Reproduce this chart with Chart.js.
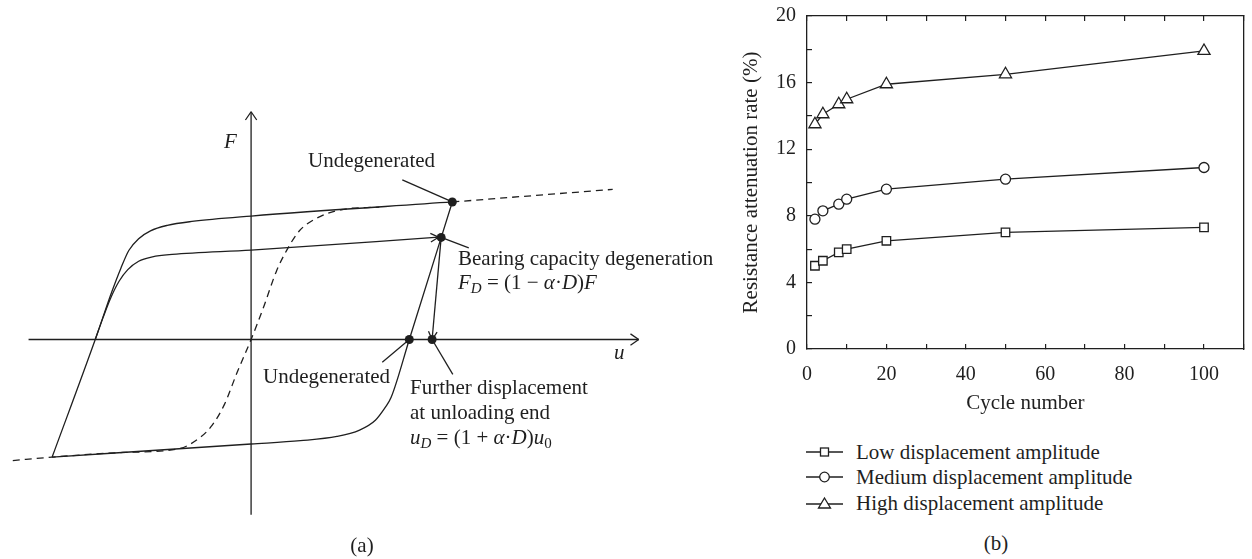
<!DOCTYPE html>
<html>
<head>
<meta charset="utf-8">
<script src="https://cdn.jsdelivr.net/npm/chart.js@4.4.0/dist/chart.umd.min.js"></script>
<style>
  body { margin: 0; background: #fff; }
  #wrap { position: relative; width: 1252px; height: 559px; overflow: hidden;
          font-family: "Liberation Serif", "DejaVu Serif", serif; color: #1f1f1f; }
  canvas { position: absolute; }
  #hyst { left: 0; top: 0; }
  #rate { left: 700px; top: 0; }
  .lbl { position: absolute; font-size: 21px; line-height: 1; white-space: nowrap; transform: translateY(-50%); }
  .cap { transform: translate(-50%, -50%); }
  sub { font-size: 15px; line-height: 0; vertical-align: -4px; }
  .row { position: absolute; left: 806px; height: 22px; transform: translateY(-50%);
         display: flex; align-items: center; font-size: 21px; white-space: nowrap; }
  .row svg { width: 37px; height: 16px; margin-right: 13px; }
</style>
</head>
<body>
<div id="wrap">
  <canvas id="hyst" width="660" height="559"></canvas>
  <canvas id="rate" width="552" height="430"></canvas>

  <div class="lbl" style="left:224px;top:141px"><i>F</i></div>
  <div class="lbl" style="left:614px;top:352px"><i>u</i></div>
  <div class="lbl" style="left:308px;top:160px">Undegenerated</div>
  <div class="lbl" style="left:458px;top:258px">Bearing capacity degeneration</div>
  <div class="lbl" style="left:458px;top:282px"><i>F</i><sub><i>D</i></sub> = (1 − <i>α</i>·<i>D</i>)<i>F</i></div>
  <div class="lbl" style="left:263px;top:376px">Undegenerated</div>
  <div class="lbl" style="left:410px;top:387px">Further displacement</div>
  <div class="lbl" style="left:410px;top:412px">at unloading end</div>
  <div class="lbl" style="left:410px;top:437px"><i>u</i><sub><i>D</i></sub> = (1 + <i>α</i>·<i>D</i>)<i>u</i><sub>0</sub></div>
  <div class="lbl cap" style="left:362px;top:545px">(a)</div>

  <div class="row" style="top:452px">
    <svg viewBox="0 0 37 16"><line x1="0" y1="8" x2="37" y2="8" stroke="#1f1f1f" stroke-width="1.3"/><rect x="14.5" y="4" width="8" height="8" fill="#fff" stroke="#1f1f1f" stroke-width="1.3"/></svg>
    <span id="leg0"></span>
  </div>
  <div class="row" style="top:477px">
    <svg viewBox="0 0 37 16"><line x1="0" y1="8" x2="37" y2="8" stroke="#1f1f1f" stroke-width="1.3"/><circle cx="18.5" cy="8" r="4.8" fill="#fff" stroke="#1f1f1f" stroke-width="1.3"/></svg>
    <span id="leg1"></span>
  </div>
  <div class="row" style="top:503px">
    <svg viewBox="0 0 37 16"><line x1="0" y1="9" x2="37" y2="9" stroke="#1f1f1f" stroke-width="1.3"/><polygon points="18.5,3 24.5,13 12.5,13" fill="#fff" stroke="#1f1f1f" stroke-width="1.3"/></svg>
    <span id="leg2"></span>
  </div>
  <div class="lbl cap" style="left:996px;top:543px">(b)</div>
</div>

<script>
// (b) resistance attenuation rate against cycle number
const cycles = [2, 4, 8, 10, 20, 50, 100];
const lowAmp = [5.0, 5.3, 5.8, 6.0, 6.5, 7.0, 7.3];
const mediumAmp = [7.8, 8.3, 8.7, 9.0, 9.6, 10.2, 10.9];
const highAmp = [13.5, 14.1, 14.7, 15.0, 15.9, 16.5, 17.9];
const seriesNames = ['Low displacement amplitude', 'Medium displacement amplitude', 'High displacement amplitude'];

// (a) schematic hysteresis loop, points as [u, F]
const outerUpper = [[-201.7, -119.5], [-158, 0], [-141.2, 48.5], [-132, 72.5], [-124, 90.5], [-114, 102.5],
  [-102, 110.5], [-85, 116], [-60, 120], [0, 125.5], [204, 139.8]];
const innerUpper = [[-158, 0], [-150, 22.5], [-142, 43], [-134, 59], [-125, 71], [-114, 79.5], [-100, 84],
  [-80, 86.5], [0, 90.9], [190, 104]];
const lowerBranch = [[-201.7, -119.5], [0, -106.2], [50, -102.8], [87, -98.5], [110, -92], [126, -82],
  [136, -69], [142, -58.8], [160.4, 0], [204, 139.8]];
const skeleton = [[-241.6, -123], [-201.7, -119.5], [-130, -114.8], [-73.2, -111], [-52, -99.8], [-39.6, -87.3],
  [-27, -65.9], [-14.3, -33.8], [0, 0], [13, 33.9], [25.7, 69.5], [36.2, 90.9], [49, 110.5], [66, 123],
  [91, 131.9], [130, 134.6]];
const skeletonTail = [[204, 139.8], [366.6, 152.6]];
const unloadStep = [[192.7, 103.8], [183.5, 0]];
const keyPoints = [[204, 139.8], [192.7, 103.8], [160.4, 0], [183.5, 0]];
const uAxisLine = [[-225.6, 0], [393, 0]];
const fAxisLine = [[0, -178.2], [0, 231.5]];
const leaderLines = [
  [[153.3, 162.2], [204, 139.8]],
  [[192.7, 103.8], [220.7, 93.2]],
  [[133, -23.1], [160.4, 0]],
  [[183.5, 0], [204.5, -35.5]]
];

const ink = '#1f1f1f';
const serif = '"Liberation Serif", "DejaVu Serif", serif';

seriesNames.forEach((n, i) => { document.getElementById('leg' + i).textContent = n; });

// open arrow heads at the end of some lines
const arrowHeads = {
  id: 'arrowHeads',
  afterDatasetsDraw(chart) {
    const ctx = chart.ctx;
    chart.data.datasets.forEach((ds, i) => {
      if (!ds.arrow) return;
      const pts = chart.getDatasetMeta(i).data;
      const a = pts[pts.length - 2], b = pts[pts.length - 1];
      const ang = Math.atan2(b.y - a.y, b.x - a.x);
      ctx.save();
      ctx.strokeStyle = ink;
      ctx.lineWidth = 1.3;
      ctx.beginPath();
      [-1, 1].forEach(s => {
        ctx.moveTo(b.x, b.y);
        ctx.lineTo(b.x - ds.arrow * Math.cos(ang + s * ds.arrowSpread), b.y - ds.arrow * Math.sin(ang + s * ds.arrowSpread));
      });
      ctx.stroke();
      ctx.restore();
    });
  }
};

function path(points, extra) {
  return Object.assign({
    data: points.map(([u, F]) => ({ x: u, y: F })),
    showLine: true, borderColor: ink, borderWidth: 1.3,
    pointRadius: 0, fill: false, tension: 0, clip: false
  }, extra);
}

new Chart(document.getElementById('hyst'), {
  type: 'scatter',
  data: {
    datasets: [
      path(fAxisLine, { arrow: 10, arrowSpread: 0.6 }),
      path(uAxisLine, { arrow: 10, arrowSpread: 0.6 }),
      path(skeleton, { borderDash: [7, 5], cubicInterpolationMode: 'monotone' }),
      path(skeletonTail, { borderDash: [7, 5] }),
      path(outerUpper, { cubicInterpolationMode: 'monotone' }),
      path(innerUpper, { cubicInterpolationMode: 'monotone', arrow: 9, arrowSpread: 0.5 }),
      path(lowerBranch, { cubicInterpolationMode: 'monotone' }),
      path(unloadStep, { arrow: 9, arrowSpread: 0.5 }),
      ...leaderLines.map(l => path(l)),
      {
        data: keyPoints.map(([u, F]) => ({ x: u, y: F })),
        showLine: false, pointRadius: 4.5, pointBackgroundColor: ink,
        pointBorderColor: ink, pointBorderWidth: 0, clip: false
      }
    ]
  },
  options: {
    responsive: false, animation: false, events: [],
    layout: { padding: 0 },
    plugins: { legend: { display: false }, tooltip: { enabled: false } },
    scales: {
      x: { type: 'linear', display: false, min: -250, max: 410 },
      y: { type: 'linear', display: false, min: -218.5, max: 340.5 }
    }
  },
  plugins: [arrowHeads]
});

function series(values, style, radius) {
  return {
    data: cycles.map((c, i) => ({ x: c, y: values[i] })),
    borderColor: ink, borderWidth: 1.3, tension: 0,
    pointStyle: style, pointRadius: radius,
    pointBackgroundColor: '#fff', pointBorderColor: ink, pointBorderWidth: 1.3,
    clip: false
  };
}

// fixed axis sizes, and no extra room for overhanging tick labels
function fixSize(w, h) {
  return s => {
    if (w !== null) s.width = w;
    if (h !== null) s.height = h;
    s.paddingTop = s.paddingBottom = s.paddingLeft = s.paddingRight = 0;
  };
}

const tickFont = { family: serif, size: 20 };
const frame = { color: ink, width: 1.3 };
const inward = { drawOnChartArea: false, tickLength: -5, color: ink, lineWidth: 1.2 };

new Chart(document.getElementById('rate'), {
  type: 'line',
  data: {
    datasets: [
      series(lowAmp, 'rect', 6),
      series(mediumAmp, 'circle', 5),
      series(highAmp, 'triangle', 7)
    ]
  },
  options: {
    responsive: false, animation: false, events: [],
    layout: { padding: { top: 16, right: 2, left: 0, bottom: 0 } },
    plugins: { legend: { display: false }, tooltip: { enabled: false } },
    scales: {
      x: {
        type: 'linear', position: 'bottom', min: 0, max: 110,
        ticks: { stepSize: 10, autoSkip: false, maxRotation: 0, padding: 19, color: ink, font: tickFont,
                 callback: v => (v % 20 === 0 && v <= 100 ? v : '') },
        grid: inward, border: frame,
        title: { display: true, text: 'Cycle number', color: ink, font: { family: serif, size: 21 }, padding: { top: 0, bottom: 14 } },
        afterFit: fixSize(null, 81)
      },
      x2: {
        type: 'linear', position: 'top', min: 0, max: 110,
        ticks: { stepSize: 10, display: false },
        grid: inward, border: frame,
        afterFit: fixSize(null, 0)
      },
      y: {
        type: 'linear', position: 'left', min: 0, max: 20,
        ticks: { stepSize: 2, autoSkip: false, padding: 16, color: ink, font: tickFont,
                 callback: v => (v % 4 === 0 ? v : '') },
        grid: inward, border: frame,
        title: { display: true, text: 'Resistance attenuation rate (%)', color: ink, font: { family: serif, size: 21 }, padding: { top: 39, bottom: 0 } },
        afterFit: fixSize(107, null)
      },
      y2: {
        type: 'linear', position: 'right', min: 0, max: 20,
        ticks: { display: false },
        grid: { drawOnChartArea: false, drawTicks: false },
        border: frame,
        afterFit: fixSize(0, null)
      }
    }
  }
});
</script>
</body>
</html>
